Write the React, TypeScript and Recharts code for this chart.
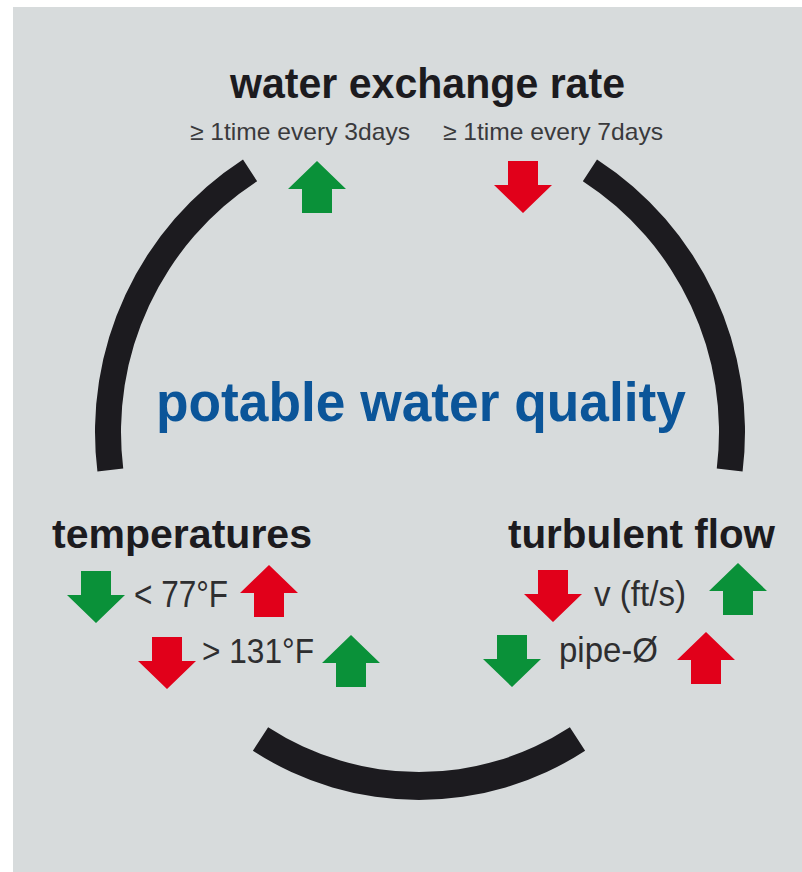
import { PieChart, Pie, Cell, ScatterChart, Scatter, XAxis, YAxis } from "recharts";

const W = 802;
const H = 872;

// ring pieces, in degrees of arc
const sideArcs = [
  { segment: "turbulent flow side", deg: 64 },
  { segment: "gap", deg: 66 },
  { segment: "temperatures side", deg: 64 },
];
const bottomArc = [{ segment: "bottom", deg: 66 }];

// arrows: centre point, direction, good (green) / bad (red)
const exchangeArrows = [
  { x: 317, y: 187, dir: "up", good: true },
  { x: 523, y: 187, dir: "down", good: false },
];
const temperatureArrows = [
  { x: 96, y: 597, dir: "down", good: true },
  { x: 269, y: 591, dir: "up", good: false },
  { x: 167, y: 663, dir: "down", good: false },
  { x: 351, y: 661, dir: "up", good: true },
];
const flowArrows = [
  { x: 553, y: 596, dir: "down", good: false },
  { x: 738, y: 589, dir: "up", good: true },
  { x: 512, y: 661, dir: "down", good: true },
  { x: 706, y: 658, dir: "up", good: false },
];

const headings = ["water exchange rate", "temperatures", "turbulent flow"];
const exchangeLabels = ["≥ 1time every 3days", "≥ 1time every 7days"];
const temperatureLabels = ["< 77°F", "> 131°F"];
const flowLabels = ["v (ft/s)", "pipe-Ø"];

const GREEN = "#0a9139";
const RED = "#e1001a";
const INK = "#1c1b1f";
const GREY_TEXT = "#2e2e30";
const FONT = "'Liberation Sans', Arial, sans-serif";

function Arrow(props: any) {
  const { cx, cy, payload } = props;
  const s = payload.dir === "up" ? 1 : -1;
  const pts = [
    [0, -26],
    [29, 2],
    [15, 2],
    [15, 26],
    [-15, 26],
    [-15, 2],
    [-29, 2],
  ]
    .map(([dx, dy]) => `${cx + dx},${cy + dy * s}`)
    .join(" ");
  return <polygon points={pts} fill={payload.good ? GREEN : RED} />;
}

// text squeezed to the measured width, like the condensed face of the original
function Label({ x, y, w, size, bold, fill, children }: any) {
  return (
    <text
      x={x}
      y={y}
      fontSize={size}
      fontWeight={bold ? "bold" : "normal"}
      fill={fill}
      textLength={w}
      lengthAdjust="spacingAndGlyphs"
    >
      {children}
    </text>
  );
}

export default function App() {
  const arrows = [...exchangeArrows, ...temperatureArrows, ...flowArrows];
  const layer: React.CSSProperties = { position: "absolute", left: 0, top: 0 };
  return (
    <div style={{ position: "absolute", left: 0, top: 0, width: W, height: H, background: "#fff" }}>
      <div style={{ position: "absolute", left: 13, top: 7, right: 0, bottom: 0, background: "#d7dbdc" }} />
      <div style={layer}>
        <PieChart width={W} height={H} margin={{ top: 0, right: 0, bottom: 0, left: 0 }}>
          <Pie
            data={sideArcs}
            dataKey="deg"
            cx={420}
            cy={432}
            innerRadius={299}
            outerRadius={325}
            startAngle={-7}
            endAngle={187}
            stroke="none"
            isAnimationActive={false}
          >
            {sideArcs.map((a) => (
              <Cell key={a.segment} fill={a.segment === "gap" ? "transparent" : INK} />
            ))}
          </Pie>
          <Pie
            data={bottomArc}
            dataKey="deg"
            cx={419}
            cy={495}
            innerRadius={277}
            outerRadius={305}
            startAngle={237}
            endAngle={303}
            stroke="none"
            fill={INK}
            isAnimationActive={false}
          />
        </PieChart>
      </div>
      <div style={layer}>
        <ScatterChart width={W} height={H} margin={{ top: 0, right: 0, bottom: 0, left: 0 }}>
          <XAxis dataKey="x" type="number" domain={[0, W]} hide />
          <YAxis dataKey="y" type="number" domain={[0, H]} reversed hide />
          <Scatter data={arrows} shape={Arrow} isAnimationActive={false} />
        </ScatterChart>
      </div>
      <svg width={W} height={H} style={layer} fontFamily={FONT}>
        <Label x={230} y={98} w={395} size={43} bold fill={INK}>
          {headings[0]}
        </Label>
        <Label x={190} y={140} w={220} size={24} fill="#3a3a3c">
          {exchangeLabels[0]}
        </Label>
        <Label x={443} y={140} w={220} size={24} fill="#3a3a3c">
          {exchangeLabels[1]}
        </Label>
        <Label x={156} y={421} w={530} size={55} bold fill="#0b5599">
          potable water quality
        </Label>
        <Label x={52} y={548} w={260} size={41} bold fill={INK}>
          {headings[1]}
        </Label>
        <Label x={508} y={548} w={267} size={41} bold fill={INK}>
          {headings[2]}
        </Label>
        <Label x={134} y={607} w={94} size={36} fill={GREY_TEXT}>
          {temperatureLabels[0]}
        </Label>
        <Label x={202} y={663} w={112} size={35} fill={GREY_TEXT}>
          {temperatureLabels[1]}
        </Label>
        <Label x={594} y={606} w={92} size={35} fill={GREY_TEXT}>
          {flowLabels[0]}
        </Label>
        <Label x={559} y={662} w={99} size={35} fill={GREY_TEXT}>
          {flowLabels[1]}
        </Label>
      </svg>
    </div>
  );
}
